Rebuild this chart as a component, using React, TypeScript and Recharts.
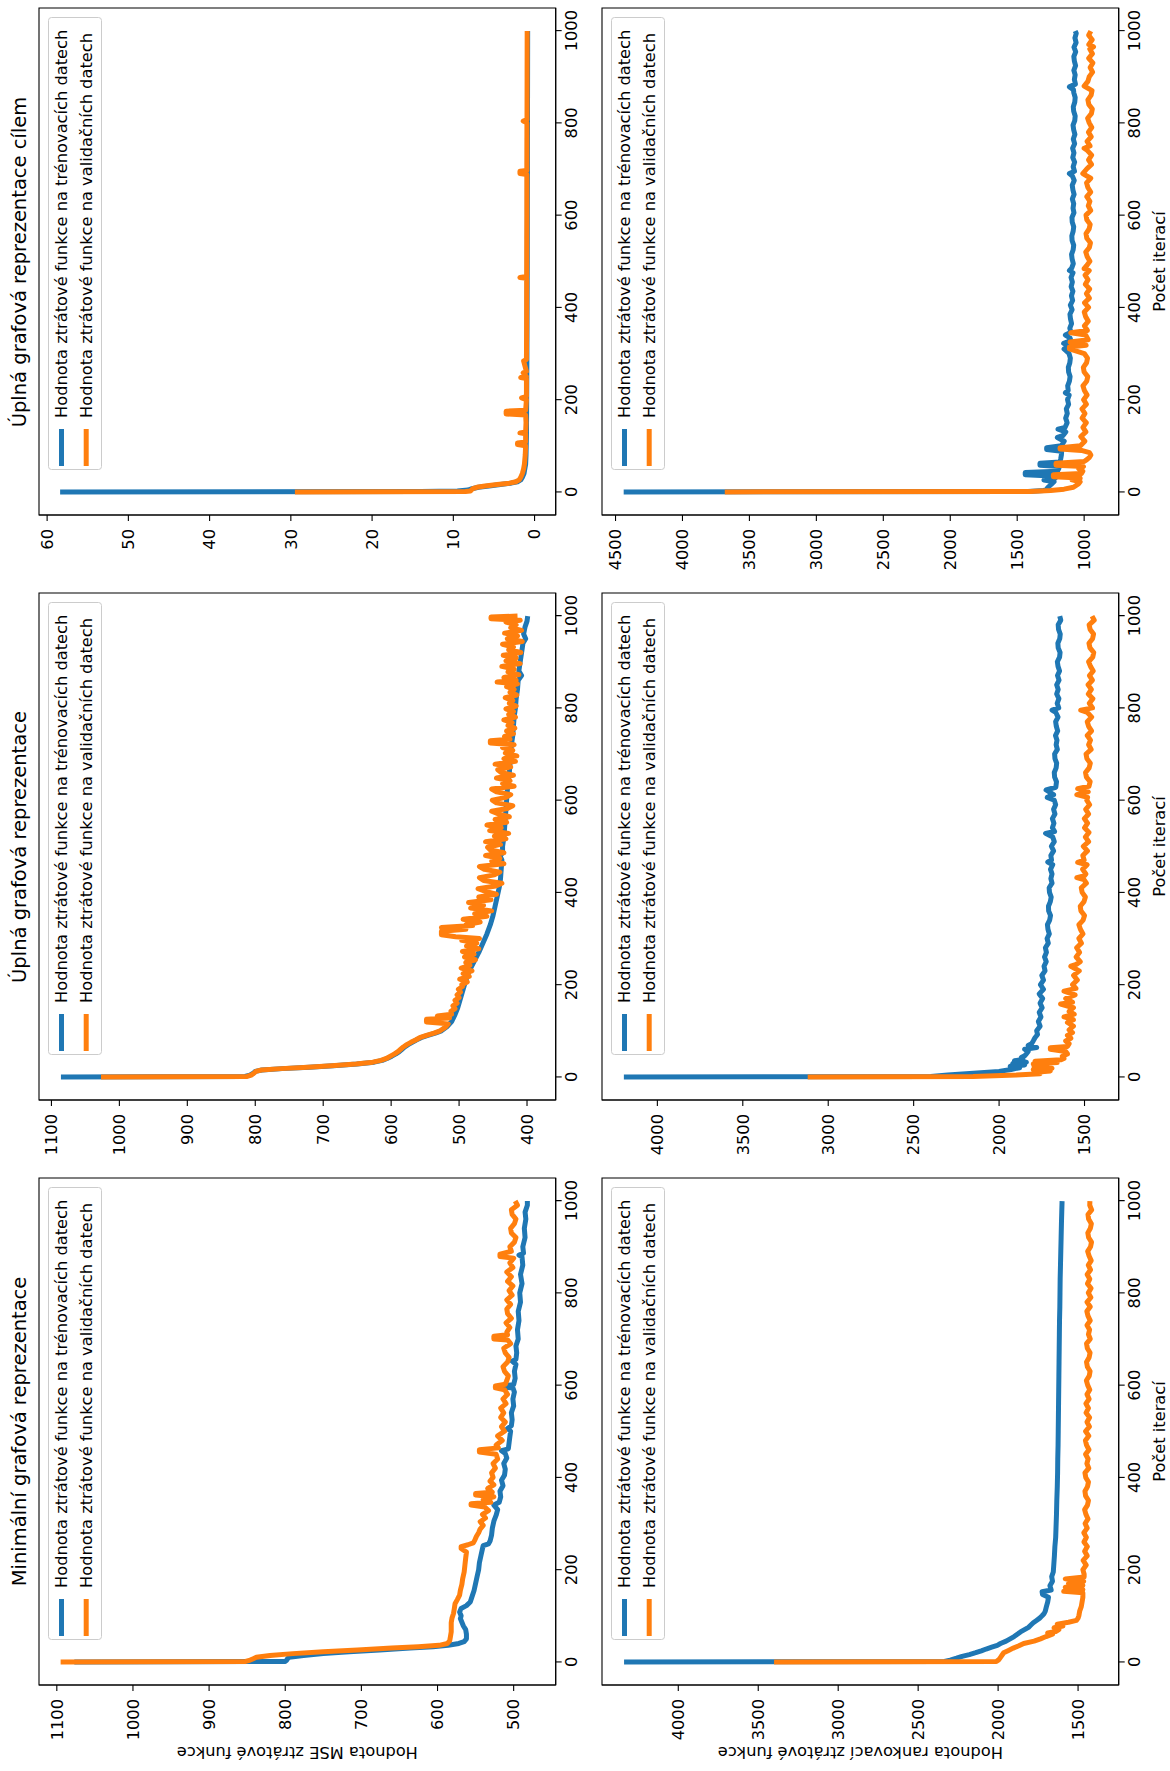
import React from 'react';
import { LineChart, Line, XAxis, YAxis, ReferenceArea, Legend } from 'recharts';

type Pt = [number, number];

// ---------- texts ----------
const panelTitles = [
  'Minimální grafová reprezentace',
  'Úplná grafová reprezentace',
  'Úplná grafová reprezentace cílem',
];
const seriesNames = [
  'Hodnota ztrátové funkce na trénovacích datech',
  'Hodnota ztrátové funkce na validačních datech',
];
const mseAxisLabel = 'Hodnota MSE ztrátové funkce';
const rankAxisLabel = 'Hodnota rankovací ztrátové funkce';
const iterationAxisLabel = 'Počet iterací';

// ---------- ticks & ranges ----------
const iterationTicks = [0, 200, 400, 600, 800, 1000];
const iterationRange: [number, number] = [-50, 1049];

const minimalMseTicks = [500, 600, 700, 800, 900, 1000, 1100];
const fullMseTicks = [400, 500, 600, 700, 800, 900, 1000, 1100];
const targetMseTicks = [0, 10, 20, 30, 40, 50, 60];
const minimalRankTicks = [1500, 2000, 2500, 3000, 3500, 4000];
const fullRankTicks = [1500, 2000, 2500, 3000, 3500, 4000];
const targetRankTicks = [1000, 1500, 2000, 2500, 3000, 3500, 4000, 4500];

const minimalMseRange: [number, number] = [444.8, 1123.4];
const fullMseRange: [number, number] = [357.8, 1118.3];
const targetMseRange: [number, number] = [-2.6, 61.0];
const minimalRankRange: [number, number] = [1246, 4477];
const fullRankRange: [number, number] = [1300, 4324];
const targetRankRange: [number, number] = [742, 4601];

// ---------- loss curves: [iteration, loss] ----------
const minimalMseTrain: Pt[] = [
  [0, 1077], [1, 800], [4, 798], [7, 797], [10, 795], [14, 776], [18, 750], [22, 716], [26, 676], [30, 636],
  [33, 606], [36, 586], [40, 572], [44, 565], [50, 562], [60, 562], [70, 563], [78, 566], [86, 568], [94, 570],
  [100, 569], [108, 571], [116, 569], [122, 562], [130, 557], [140, 555], [155, 552], [170, 550], [185, 548],
  [200, 546], [215, 545], [230, 543], [245, 541], [252, 540], [256, 533], [262, 531], [275, 529], [290, 528],
  [305, 526], [318, 523], [330, 521], [340, 526], [346, 519], [358, 517], [370, 518], [382, 514], [394, 516],
  [405, 512], [418, 511], [430, 513], [442, 509], [452, 511], [458, 516], [462, 507], [475, 506], [488, 505],
  [500, 504], [506, 508], [512, 503], [525, 502], [540, 503], [555, 500], [570, 501], [585, 499], [594, 501],
  [596, 514], [599, 514], [601, 500], [615, 498], [630, 499], [645, 497], [652, 502], [656, 497], [670, 496],
  [685, 497], [700, 494], [720, 495], [740, 493], [760, 494], [780, 491], [800, 492], [820, 489], [840, 491],
  [860, 488], [878, 489], [882, 493], [886, 487], [900, 488], [920, 485], [940, 486], [960, 484], [975, 485],
  [990, 482], [999, 482],
];
const minimalMseVal: Pt[] = [
  [0, 1095], [1, 852], [4, 846], [7, 842], [10, 838], [14, 820], [18, 790], [22, 750], [26, 705], [30, 660],
  [33, 625], [36, 598], [40, 587], [46, 584], [55, 583], [65, 582], [75, 582], [85, 582], [95, 581], [105, 579],
  [115, 578], [126, 577], [135, 574], [145, 571], [155, 570], [168, 568], [180, 567], [195, 565], [210, 564],
  [225, 563], [238, 562], [246, 569], [250, 569], [254, 560], [258, 553], [264, 551], [272, 549], [280, 546],
  [288, 544], [296, 540], [304, 544], [312, 537], [320, 541], [328, 533], [336, 538], [340, 556], [343, 556],
  [346, 530], [352, 540], [358, 526], [362, 550], [365, 550], [368, 528], [376, 534], [384, 526], [392, 531],
  [400, 527], [410, 529], [420, 524], [430, 527], [440, 521], [450, 523], [455, 545], [460, 545], [464, 520],
  [470, 523], [480, 515], [490, 521], [500, 512], [510, 516], [520, 511], [530, 517], [540, 513], [550, 517],
  [560, 510], [570, 514], [580, 508], [590, 512], [594, 524], [598, 524], [602, 511], [610, 509], [620, 507],
  [630, 512], [640, 514], [650, 508], [660, 506], [670, 511], [680, 513], [690, 504], [698, 508], [700, 526],
  [706, 526], [709, 508], [715, 509], [725, 505], [735, 510], [745, 503], [755, 508], [765, 509], [775, 504],
  [785, 509], [795, 502], [805, 506], [815, 501], [825, 508], [835, 503], [845, 509], [855, 501], [865, 505],
  [875, 500], [879, 518], [884, 518], [890, 503], [900, 505], [910, 499], [920, 497], [930, 503], [940, 504],
  [950, 499], [960, 497], [970, 502], [980, 503], [990, 495], [999, 498],
];

const fullMseTrain: Pt[] = [
  [0, 1086], [1, 815], [4, 808], [8, 803], [12, 800], [15, 790], [18, 760], [21, 720], [24, 685], [28, 650],
  [32, 625], [36, 613], [40, 606], [45, 599], [50, 593], [55, 588], [60, 584], [65, 580], [70, 575], [75, 569],
  [80, 563], [85, 556], [90, 546], [95, 535], [100, 526], [110, 517], [120, 511], [135, 506], [150, 502],
  [170, 498], [190, 494], [210, 490], [230, 485], [250, 478], [270, 471], [290, 465], [310, 459], [330, 454],
  [350, 450], [370, 447], [390, 444], [410, 441], [430, 439], [450, 438], [470, 437], [480, 440], [485, 436],
  [500, 436], [520, 434], [540, 433], [560, 432], [580, 431], [600, 430], [620, 429], [640, 428], [660, 426],
  [680, 425], [700, 424], [720, 423], [740, 421], [760, 420], [780, 419], [800, 417], [820, 416], [840, 414],
  [860, 413], [870, 408], [880, 412], [900, 410], [920, 408], [940, 406], [950, 402], [960, 405], [975, 403],
  [988, 400], [999, 399],
];
const fullMseVal: Pt[] = [
  [0, 1027], [1, 812], [4, 806], [8, 802], [12, 799], [15, 791], [18, 762], [21, 723], [24, 688], [28, 652],
  [32, 627], [36, 615], [40, 607], [45, 601], [50, 595], [55, 590], [60, 586], [65, 582], [70, 577], [75, 571],
  [80, 564], [85, 558], [90, 548], [95, 537], [100, 528], [108, 520], [115, 516], [119, 548], [125, 548],
  [128, 514], [132, 532], [136, 511], [142, 512], [148, 506], [154, 509], [160, 503], [166, 506], [172, 500],
  [178, 503], [184, 498], [190, 501], [196, 495], [200, 496], [206, 488], [212, 499], [218, 485], [224, 494],
  [230, 481], [236, 497], [242, 484], [248, 490], [254, 476], [260, 492], [266, 478], [272, 495], [278, 471],
  [284, 489], [290, 474], [296, 496], [300, 470], [304, 505], [308, 526], [316, 526], [320, 490], [324, 526],
  [328, 480], [330, 490], [336, 469], [342, 494], [348, 459], [354, 477], [360, 452], [366, 483], [372, 464],
  [378, 486], [384, 453], [390, 471], [396, 445], [402, 461], [408, 472], [414, 446], [420, 437], [426, 464],
  [432, 470], [438, 448], [444, 440], [450, 463], [456, 470], [462, 434], [468, 452], [474, 440], [480, 461],
  [486, 434], [492, 454], [498, 458], [504, 439], [510, 461], [516, 431], [522, 448], [528, 427], [534, 455],
  [540, 438], [546, 459], [552, 430], [558, 447], [564, 426], [570, 442], [576, 452], [582, 429], [588, 421],
  [594, 445], [600, 451], [606, 431], [612, 424], [618, 445], [624, 452], [630, 419], [636, 436], [642, 425],
  [648, 445], [654, 420], [660, 438], [666, 443], [672, 424], [678, 447], [684, 417], [690, 434], [696, 415],
  [702, 432], [708, 421], [714, 436], [720, 419], [724, 454], [729, 454], [732, 425], [738, 433], [744, 420],
  [750, 430], [756, 418], [762, 428], [768, 422], [774, 434], [780, 417], [786, 427], [792, 420], [798, 431],
  [804, 416], [810, 426], [816, 421], [822, 432], [828, 415], [834, 425], [840, 419], [846, 430], [852, 414],
  [856, 444], [860, 416], [866, 434], [872, 412], [878, 428], [884, 419], [890, 437], [896, 410], [902, 431],
  [908, 416], [914, 435], [920, 409], [926, 427], [932, 420], [938, 436], [944, 407], [950, 429], [956, 414],
  [962, 433], [968, 408], [974, 424], [980, 416], [986, 431], [990, 410], [993, 453], [997, 453], [999, 414],
];

const targetMseTrain: Pt[] = [
  [0, 58.4], [1, 14], [2, 9.5], [4, 8.2], [7, 7.7], [10, 6.9], [13, 5.6], [16, 4.2], [19, 2.9], [22, 2.1],
  [26, 1.7], [32, 1.5], [40, 1.3], [50, 1.2], [60, 1.1], [80, 1.05], [120, 1.0], [200, 0.97], [300, 0.94],
  [400, 0.92], [500, 0.9], [600, 0.89], [700, 0.88], [800, 0.87], [900, 0.86], [999, 0.85],
];
const targetMseVal: Pt[] = [
  [0, 29.5], [1, 8.5], [2, 7.9], [4, 7.8], [7, 7.6], [10, 7.1], [13, 6.1], [16, 4.6], [19, 3.1], [22, 2.3],
  [26, 1.9], [32, 1.7], [40, 1.5], [50, 1.35], [60, 1.25], [80, 1.15], [100, 1.1], [103, 2.1], [106, 2.1],
  [108, 1.1], [126, 1.1], [128, 1.8], [130, 1.1], [150, 1.05], [167, 1.1], [169, 3.5], [175, 3.5], [177, 1.1],
  [200, 1.0], [204, 1.6], [207, 1.0], [246, 1.0], [248, 1.7], [250, 1.0], [258, 1.4], [261, 1.0], [284, 1.35],
  [287, 1.0], [350, 0.98], [463, 0.97], [465, 1.8], [467, 0.97], [550, 0.96], [600, 0.95], [688, 0.95],
  [690, 1.8], [695, 1.8], [697, 0.95], [800, 0.94], [804, 1.4], [807, 0.93], [900, 0.92], [999, 0.91],
];

const minimalRankTrain: Pt[] = [
  [0, 4339], [1, 2335], [4, 2300], [8, 2260], [12, 2225], [16, 2180], [20, 2140], [24, 2105], [28, 2075],
  [32, 2040], [36, 2005], [40, 1985], [45, 1950], [50, 1925], [55, 1900], [60, 1880], [65, 1860], [70, 1835],
  [75, 1810], [80, 1795], [85, 1780], [90, 1760], [95, 1740], [100, 1725], [105, 1712], [110, 1705],
  [120, 1698], [130, 1690], [140, 1685], [146, 1722], [152, 1725], [156, 1668], [165, 1676], [175, 1660],
  [185, 1665], [195, 1655], [210, 1652], [230, 1648], [250, 1645], [270, 1640], [290, 1638], [320, 1635],
  [350, 1633], [380, 1630], [410, 1628], [440, 1627], [470, 1625], [500, 1624], [530, 1623], [560, 1622],
  [590, 1621], [620, 1620], [650, 1619], [680, 1618], [710, 1617], [740, 1616], [770, 1614], [800, 1613],
  [830, 1612], [860, 1610], [890, 1608], [920, 1606], [950, 1604], [975, 1602], [999, 1600],
];
const minimalRankVal: Pt[] = [
  [0, 3401], [1, 2011], [5, 1995], [10, 1985], [15, 1975], [20, 1965], [25, 1935], [30, 1905], [35, 1870],
  [40, 1840], [45, 1775], [50, 1735], [55, 1700], [60, 1660], [63, 1690], [66, 1640], [70, 1620], [74, 1650],
  [78, 1595], [82, 1630], [86, 1560], [90, 1510], [95, 1500], [100, 1495], [110, 1490], [120, 1480],
  [130, 1475], [140, 1470], [150, 1470], [153, 1590], [157, 1470], [162, 1580], [166, 1470], [170, 1560],
  [175, 1465], [180, 1580], [184, 1462], [190, 1462], [200, 1470], [210, 1449], [220, 1468], [230, 1443],
  [240, 1459], [250, 1442], [260, 1463], [270, 1448], [280, 1464], [290, 1443], [300, 1456], [310, 1438],
  [320, 1451], [330, 1459], [340, 1441], [350, 1435], [360, 1453], [370, 1457], [380, 1441], [390, 1435],
  [400, 1452], [410, 1457], [420, 1433], [430, 1445], [440, 1437], [450, 1453], [460, 1432], [470, 1447],
  [480, 1454], [490, 1433], [500, 1453], [510, 1429], [520, 1444], [530, 1428], [540, 1450], [550, 1435],
  [560, 1451], [570, 1431], [580, 1444], [590, 1427], [600, 1440], [610, 1448], [620, 1430], [630, 1425],
  [640, 1442], [650, 1447], [660, 1431], [670, 1425], [680, 1442], [690, 1447], [700, 1424], [710, 1435],
  [720, 1428], [730, 1444], [740, 1424], [750, 1438], [760, 1445], [770, 1424], [780, 1444], [790, 1420],
  [800, 1436], [810, 1419], [820, 1441], [830, 1427], [840, 1443], [850, 1422], [860, 1436], [870, 1418],
  [880, 1431], [890, 1440], [900, 1422], [910, 1416], [920, 1434], [930, 1439], [940, 1423], [950, 1417],
  [960, 1434], [970, 1438], [980, 1415], [990, 1427], [999, 1426],
];

const fullRankTrain: Pt[] = [
  [0, 4196], [1, 2400], [4, 2300], [8, 2150], [12, 2000], [16, 1930], [20, 1880], [23, 1935], [26, 1850],
  [29, 1920], [32, 1840], [35, 1910], [38, 1860], [42, 1870], [46, 1850], [50, 1840], [55, 1830], [60, 1850],
  [64, 1780], [68, 1830], [72, 1810], [78, 1800], [85, 1790], [92, 1775], [100, 1780], [110, 1760],
  [120, 1770], [130, 1755], [140, 1765], [150, 1748], [160, 1760], [170, 1745], [180, 1765], [190, 1740],
  [200, 1758], [210, 1740], [220, 1750], [230, 1731], [240, 1737], [250, 1724], [260, 1734], [270, 1723],
  [280, 1729], [290, 1712], [300, 1719], [310, 1706], [320, 1714], [330, 1717], [340, 1704], [350, 1699],
  [360, 1710], [370, 1711], [380, 1700], [390, 1695], [400, 1705], [410, 1707], [420, 1690], [430, 1697],
  [440, 1690], [450, 1699], [460, 1686], [466, 1715], [470, 1693], [480, 1697], [490, 1681], [500, 1694],
  [510, 1677], [520, 1686], [528, 1728], [532, 1675], [540, 1688], [550, 1679], [560, 1688], [570, 1673],
  [580, 1681], [590, 1669], [600, 1677], [606, 1718], [612, 1681], [622, 1725], [628, 1668], [640, 1664],
  [650, 1675], [660, 1677], [670, 1666], [680, 1663], [690, 1673], [700, 1675], [710, 1659], [720, 1666],
  [730, 1661], [740, 1670], [750, 1657], [760, 1665], [770, 1669], [780, 1655], [790, 1668], [795, 1690],
  [800, 1651], [810, 1660], [820, 1650], [830, 1663], [840, 1654], [850, 1663], [860, 1649], [870, 1658],
  [880, 1646], [890, 1655], [900, 1659], [910, 1646], [920, 1643], [930, 1654], [940, 1656], [950, 1645],
  [960, 1642], [970, 1652], [980, 1654], [990, 1639], [999, 1645],
];
const fullRankVal: Pt[] = [
  [0, 3120], [1, 2152], [4, 1900], [7, 1760], [10, 1785], [13, 1700], [16, 1800], [19, 1690], [22, 1795],
  [25, 1720], [28, 1800], [31, 1660], [34, 1790], [37, 1640], [40, 1620], [45, 1630], [50, 1600], [55, 1610],
  [60, 1700], [63, 1700], [66, 1600], [72, 1590], [78, 1610], [84, 1580], [90, 1600], [96, 1570], [102, 1590],
  [110, 1565], [118, 1600], [124, 1565], [130, 1620], [136, 1560], [142, 1590], [150, 1565], [158, 1640],
  [162, 1570], [170, 1610], [178, 1555], [186, 1620], [192, 1550], [200, 1570], [210, 1542], [220, 1564],
  [230, 1531], [240, 1580], [244, 1548], [250, 1525], [260, 1549], [270, 1529], [280, 1546], [290, 1518],
  [300, 1533], [310, 1509], [320, 1524], [330, 1533], [340, 1508], [350, 1500], [360, 1521], [370, 1525],
  [380, 1503], [390, 1495], [400, 1514], [410, 1519], [420, 1489], [428, 1504], [432, 1545], [436, 1500],
  [440, 1492], [450, 1511], [460, 1485], [465, 1540], [470, 1502], [480, 1510], [490, 1483], [500, 1507],
  [510, 1476], [520, 1495], [530, 1474], [540, 1500], [550, 1482], [560, 1501], [570, 1476], [580, 1493],
  [590, 1470], [600, 1487], [606, 1482], [612, 1545], [618, 1478], [625, 1540], [630, 1474], [640, 1467],
  [650, 1489], [660, 1494], [670, 1473], [680, 1466], [690, 1486], [700, 1491], [710, 1461], [720, 1476],
  [730, 1465], [740, 1484], [750, 1459], [760, 1476], [770, 1484], [780, 1458], [790, 1483], [795, 1522],
  [800, 1453], [810, 1472], [820, 1451], [830, 1478], [840, 1460], [850, 1479], [860, 1454], [870, 1471],
  [880, 1449], [890, 1465], [900, 1476], [910, 1452], [920, 1446], [930, 1468], [940, 1474], [950, 1453],
  [960, 1447], [970, 1467], [980, 1473], [990, 1443], [999, 1456],
];

const targetRankTrain: Pt[] = [
  [0, 4439], [1, 1420], [3, 1300], [6, 1280], [10, 1270], [14, 1255], [18, 1240], [22, 1225], [26, 1300],
  [30, 1215], [34, 1205], [37, 1440], [42, 1440], [45, 1200], [50, 1190], [55, 1185], [58, 1330], [62, 1330],
  [65, 1180], [72, 1175], [80, 1170], [88, 1168], [92, 1280], [96, 1280], [100, 1170], [110, 1149],
  [118, 1200], [122, 1159], [130, 1137], [136, 1195], [140, 1142], [150, 1127], [160, 1138], [170, 1126],
  [180, 1133], [190, 1116], [200, 1124], [210, 1112], [215, 1140], [220, 1119], [230, 1123], [240, 1110],
  [250, 1105], [260, 1116], [270, 1118], [280, 1107], [290, 1103], [300, 1113], [310, 1150], [316, 1112],
  [322, 1153], [328, 1099], [334, 1106], [340, 1140], [346, 1099], [355, 1107], [365, 1094], [375, 1102],
  [385, 1106], [395, 1090], [405, 1103], [415, 1086], [425, 1095], [435, 1084], [445, 1097], [455, 1088],
  [465, 1098], [475, 1083], [480, 1110], [485, 1093], [495, 1081], [505, 1090], [515, 1094], [525, 1082],
  [535, 1078], [545, 1090], [555, 1092], [565, 1082], [575, 1078], [585, 1089], [595, 1091], [605, 1076],
  [615, 1083], [625, 1078], [635, 1088], [645, 1075], [655, 1084], [665, 1089], [675, 1074], [685, 1088],
  [690, 1110], [695, 1072], [705, 1082], [715, 1071], [725, 1085], [735, 1076], [745, 1086], [755, 1071],
  [765, 1081], [775, 1069], [785, 1078], [795, 1083], [805, 1070], [815, 1067], [825, 1078], [835, 1081],
  [845, 1070], [855, 1067], [865, 1077], [872, 1080], [878, 1110], [884, 1065], [894, 1073], [904, 1067],
  [914, 1077], [924, 1064], [934, 1073], [944, 1077], [954, 1063], [964, 1076], [974, 1060], [984, 1069],
  [994, 1059], [999, 1067],
];
const targetRankVal: Pt[] = [
  [0, 3684], [1, 1400], [3, 1250], [6, 1150], [10, 1080], [14, 1060], [18, 1040], [22, 1030], [26, 1090],
  [30, 1030], [33, 1230], [37, 1230], [40, 1020], [45, 1010], [50, 1040], [55, 1005], [58, 1210], [62, 1210],
  [66, 1000], [70, 980], [75, 960], [80, 950], [85, 960], [90, 1020], [93, 1180], [96, 1180], [100, 1028],
  [110, 995], [120, 1025], [130, 987], [140, 1009], [150, 984], [160, 1015], [170, 994], [180, 1016],
  [190, 983], [200, 1004], [210, 978], [220, 998], [230, 1009], [240, 981], [250, 973], [260, 1000],
  [270, 1006], [280, 982], [290, 975], [300, 999], [310, 1110], [314, 1110], [318, 985], [325, 1105],
  [330, 970], [340, 988], [345, 1100], [350, 976], [360, 998], [370, 969], [380, 989], [390, 999],
  [400, 967], [410, 997], [420, 961], [430, 983], [440, 959], [450, 991], [460, 971], [470, 993],
  [480, 962], [484, 1000], [490, 983], [500, 957], [510, 977], [520, 988], [530, 961], [540, 953],
  [550, 980], [560, 986], [570, 963], [580, 955], [590, 980], [600, 986], [610, 951], [620, 969], [630, 957],
  [640, 980], [650, 951], [660, 972], [670, 982], [680, 951], [690, 1010], [700, 981], [710, 945],
  [720, 967], [730, 944], [740, 975], [745, 1000], [750, 956], [760, 978], [770, 947], [780, 968],
  [790, 943], [800, 962], [810, 974], [820, 946], [830, 939], [840, 965], [850, 972], [860, 948], [870, 941],
  [880, 1000], [890, 972], [900, 962], [910, 937], [920, 955], [930, 935], [940, 966], [950, 938],
  [960, 958], [965, 930], [970, 965], [980, 940], [990, 966], [999, 950],
];

// ---------- styling & layout ----------
const TRAIN_COLOR = '#1f77b4';
const VAL_COLOR = '#ff7f0e';
const FONT = "'DejaVu Sans', 'Liberation Sans', sans-serif";
const FIG_W = 1771;
const FIG_H = 1170;
const PLOT_W = 507;
const PLOT_H = 516.7;
const COL_LEFT = [86, 670.5, 1255.5];
const ROW_TOP = [39.3, 601.7];
const Y_AXIS_W = 80;
const X_AXIS_H = 50;
const TOP_PAD = 10;
const RIGHT_PAD = 10;
const LEGEND_W = 453;
const LEGEND_H = 54;
const LINE_W = 5;
const FONT_SIZE = 16.25;
const TITLE_SIZE = 19.5;

const toRows = (pts: Pt[]) => pts.map(([iter, loss]) => ({ iter, loss }));

type PanelSpec = {
  row: number;
  col: number;
  range: [number, number];
  ticks: number[];
  train: Pt[];
  val: Pt[];
  yLabel?: string;
};

const panels: PanelSpec[] = [
  { row: 0, col: 0, range: minimalMseRange, ticks: minimalMseTicks, train: minimalMseTrain, val: minimalMseVal, yLabel: mseAxisLabel },
  { row: 0, col: 1, range: fullMseRange, ticks: fullMseTicks, train: fullMseTrain, val: fullMseVal },
  { row: 0, col: 2, range: targetMseRange, ticks: targetMseTicks, train: targetMseTrain, val: targetMseVal },
  { row: 1, col: 0, range: minimalRankRange, ticks: minimalRankTicks, train: minimalRankTrain, val: minimalRankVal, yLabel: rankAxisLabel },
  { row: 1, col: 1, range: fullRankRange, ticks: fullRankTicks, train: fullRankTrain, val: fullRankVal },
  { row: 1, col: 2, range: targetRankRange, ticks: targetRankTicks, train: targetRankTrain, val: targetRankVal },
];

const tickStyle = { fill: '#000', fontSize: FONT_SIZE, fontFamily: FONT };

function LegendBox() {
  const colors = [TRAIN_COLOR, VAL_COLOR];
  return (
    <svg width={LEGEND_W} height={LEGEND_H} style={{ display: 'block', overflow: 'visible' }}>
      <rect x={0.5} y={0.5} width={LEGEND_W - 1} height={LEGEND_H - 1} rx={3} ry={3}
        fill="#ffffff" fillOpacity={0.8} stroke="#cccccc" strokeWidth={1} />
      {seriesNames.map((name, i) => {
        const cy = 13.5 + i * 24.7;
        return (
          <g key={name}>
            <line x1={4} x2={41} y1={cy} y2={cy} stroke={colors[i]} strokeWidth={LINE_W} />
            <text x={52} y={cy} dy="0.36em" fontSize={FONT_SIZE} fontFamily={FONT} fill="#000">{name}</text>
          </g>
        );
      })}
    </svg>
  );
}

function Panel({ spec }: { spec: PanelSpec }) {
  const width = Y_AXIS_W + PLOT_W + RIGHT_PAD;
  const height = TOP_PAD + PLOT_H + X_AXIS_H;
  const left = COL_LEFT[spec.col] - Y_AXIS_W;
  const top = ROW_TOP[spec.row] - TOP_PAD;
  return (
    <div style={{ position: 'absolute', left, top, width, height }}>
      <LineChart width={width} height={height} margin={{ top: TOP_PAD, right: RIGHT_PAD, left: 0, bottom: 0 }}>
        <XAxis
          dataKey="iter"
          type="number"
          domain={iterationRange}
          ticks={iterationTicks}
          allowDataOverflow
          interval={0}
          height={X_AXIS_H}
          stroke="#000"
          strokeWidth={1.1}
          tickSize={6}
          tickMargin={4}
          tick={tickStyle}
          label={spec.row === 1 ? {
            value: iterationAxisLabel,
            position: 'insideBottom',
            offset: 4,
            style: { fill: '#000', fontSize: FONT_SIZE, fontFamily: FONT, textAnchor: 'middle' },
          } : undefined}
        />
        <YAxis
          type="number"
          domain={spec.range}
          ticks={spec.ticks}
          allowDataOverflow
          interval={0}
          width={Y_AXIS_W}
          stroke="#000"
          strokeWidth={1.1}
          tickSize={6}
          tickMargin={8}
          tick={tickStyle}
          label={spec.yLabel ? {
            value: spec.yLabel,
            angle: -90,
            position: 'insideLeft',
            offset: 12,
            style: { fill: '#000', fontSize: FONT_SIZE, fontFamily: FONT, textAnchor: 'middle' },
          } : undefined}
        />
        <ReferenceArea
          x1={iterationRange[0]} x2={iterationRange[1]} y1={spec.range[0]} y2={spec.range[1]}
          fill="none" fillOpacity={0} stroke="#000" strokeWidth={1.1} ifOverflow="visible"
        />
        <Line data={toRows(spec.train)} dataKey="loss" name={seriesNames[0]} type="linear"
          stroke={TRAIN_COLOR} strokeWidth={LINE_W} strokeLinejoin="round" dot={false} activeDot={false}
          isAnimationActive={false} />
        <Line data={toRows(spec.val)} dataKey="loss" name={seriesNames[1]} type="linear"
          stroke={VAL_COLOR} strokeWidth={LINE_W} strokeLinejoin="round" dot={false} activeDot={false}
          isAnimationActive={false} />
        <Legend
          layout="vertical"
          align="center"
          verticalAlign="middle"
          content={() => <LegendBox />}
          wrapperStyle={{ left: Y_AXIS_W + PLOT_W - 9 - LEGEND_W, top: TOP_PAD + 9, width: LEGEND_W, height: LEGEND_H }}
        />
      </LineChart>
    </div>
  );
}

export default function App() {
  return (
    <div style={{ position: 'absolute', left: 0, top: 0, width: FIG_H, height: FIG_W, overflow: 'hidden', background: '#fff', fontFamily: FONT }}>
      <div
        style={{
          position: 'absolute', left: 0, top: 0, width: FIG_W, height: FIG_H,
          transformOrigin: '0 0', transform: `translateY(${FIG_W}px) rotate(-90deg)`, background: '#fff',
        }}
      >
        <svg width={FIG_W} height={FIG_H} style={{ position: 'absolute', left: 0, top: 0 }}>
          {panelTitles.map((t, i) => (
            <text key={t} x={COL_LEFT[i] + PLOT_W / 2} y={25.5} textAnchor="middle"
              fontSize={TITLE_SIZE} fontFamily={FONT} fill="#000">{t}</text>
          ))}
        </svg>
        {panels.map((p, i) => <Panel key={i} spec={p} />)}
      </div>
    </div>
  );
}
